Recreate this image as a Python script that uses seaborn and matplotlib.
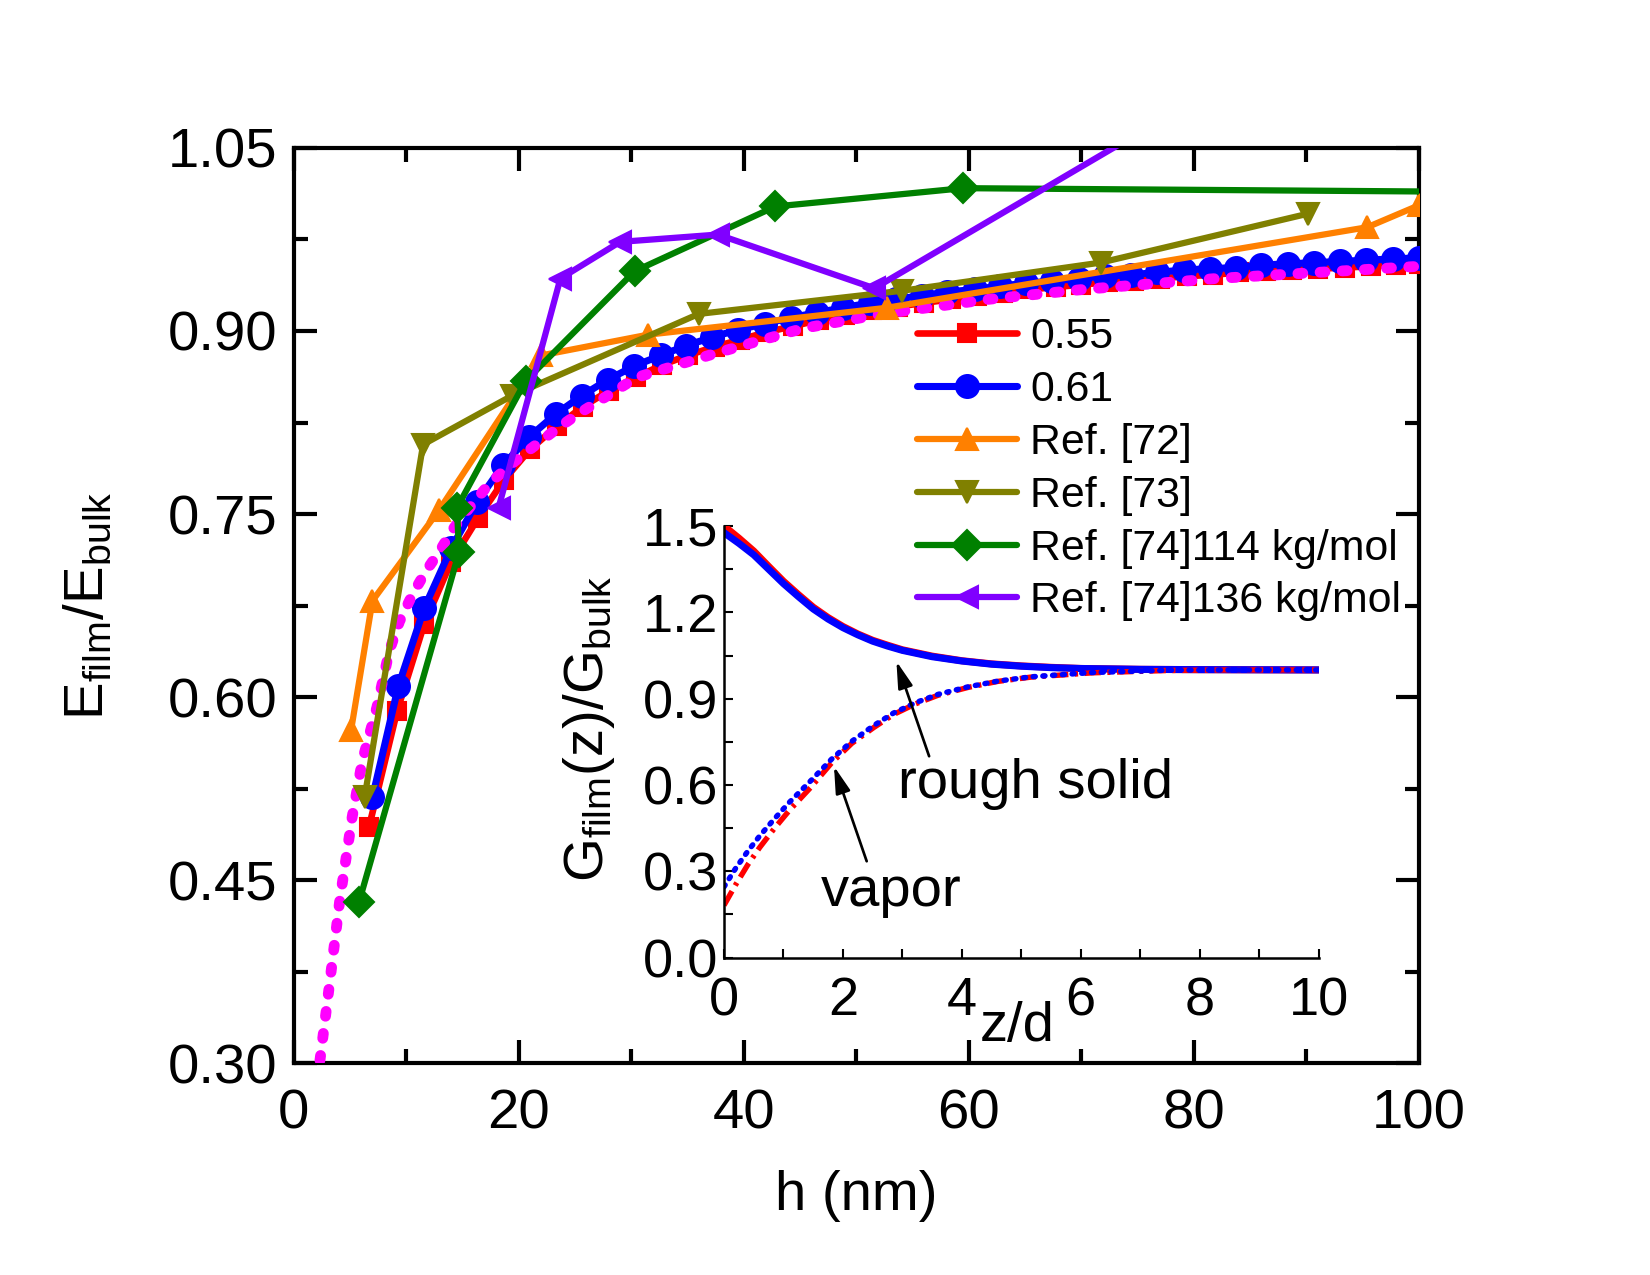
import matplotlib
matplotlib.use('Agg')
import matplotlib.pyplot as plt
import matplotlib.font_manager as fm
import seaborn as sns
from matplotlib.ticker import MultipleLocator, FormatStrFormatter

# ---- main panel: E_film/E_bulk vs h ----
h_055 = [6.7, 9.2, 11.6, 14.0, 16.4, 18.7, 21.0, 23.4, 25.7, 28.0, 30.4, 32.7, 35.0, 37.4,
         39.7, 42.0, 44.4, 46.7, 49.0, 51.4, 53.7, 56.0, 58.4, 60.7, 63.0, 65.4, 67.7, 70.0,
         72.4, 74.7, 77.0, 79.4, 81.7, 84.0, 86.4, 88.7, 91.0, 93.4, 95.7, 98.0, 100.0]
E_055 = [0.494, 0.589, 0.660, 0.711, 0.747, 0.778, 0.803, 0.822, 0.838, 0.851, 0.862, 0.872,
         0.880, 0.887, 0.893, 0.899, 0.904, 0.909, 0.913, 0.917, 0.920, 0.923, 0.926, 0.929,
         0.931, 0.934, 0.936, 0.938, 0.940, 0.941, 0.943, 0.945, 0.946, 0.948, 0.949, 0.950,
         0.951, 0.952, 0.953, 0.954, 0.955]

h_061 = [7.0, 9.3, 11.6, 14.0, 16.3, 18.6, 20.9, 23.3, 25.6, 27.9, 30.2, 32.6, 34.9, 37.2,
         39.5, 41.9, 44.2, 46.5, 48.8, 51.2, 53.5, 55.8, 58.1, 60.5, 62.8, 65.1, 67.4, 69.8,
         72.1, 74.4, 76.7, 79.1, 81.4, 83.7, 86.0, 88.4, 90.7, 93.0, 95.3, 97.7, 100.0]
E_061 = [0.518, 0.609, 0.673, 0.722, 0.760, 0.790, 0.813, 0.832, 0.847, 0.860, 0.871, 0.880,
         0.888, 0.895, 0.901, 0.906, 0.911, 0.915, 0.919, 0.923, 0.926, 0.929, 0.932, 0.934,
         0.937, 0.939, 0.941, 0.943, 0.945, 0.946, 0.948, 0.950, 0.951, 0.952, 0.954, 0.955,
         0.956, 0.957, 0.958, 0.959, 0.960]

h_model = [1.8, 2.3, 3.2, 4.1, 5.2, 6.1, 7.4, 8.5, 9.4, 10.6, 11.8, 13.0, 14.1, 15.6, 17.4,
           19.2, 21.0, 23.4, 25.1, 30.5, 37.6, 45.2, 52.3, 61.8, 70.1, 82.0, 100.0]
E_model = [0.285, 0.30, 0.366, 0.434, 0.502, 0.548, 0.592, 0.638, 0.662, 0.685, 0.704, 0.720,
           0.737, 0.755, 0.775, 0.790, 0.803, 0.820, 0.831, 0.862, 0.882, 0.902, 0.914, 0.926,
           0.934, 0.943, 0.953]

h_ref72 = [5.1, 7.0, 12.9, 22.0, 31.5, 52.7, 95.4, 100.0]
E_ref72 = [0.573, 0.679, 0.753, 0.880, 0.897, 0.919, 0.985, 1.003]

h_ref73 = [6.3, 11.5, 19.4, 36.0, 54.1, 71.7, 90.1]
E_ref73 = [0.518, 0.807, 0.847, 0.914, 0.933, 0.956, 0.996]

h_ref74a = [5.8, 14.7, 14.5, 20.6, 30.3, 42.8, 59.5, 120.0]
E_ref74a = [0.432, 0.719, 0.755, 0.859, 0.949, 1.002, 1.017, 1.013]

h_ref74b = [18.2, 23.7, 29.0, 37.7, 51.6, 95.0]
E_ref74b = [0.755, 0.943, 0.973, 0.979, 0.935, 1.170]

# ---- inset: G_film(z)/G_bulk vs z/d ----
z_solid = [0.0, 0.25, 0.5, 0.75, 1.0, 1.25, 1.5, 1.75, 2.0, 2.25, 2.5, 2.75, 3.0, 3.5, 4.0,
           4.5, 5.0, 5.5, 6.0, 7.0, 8.0, 10.0]
G_solid_red = [1.500, 1.458, 1.413, 1.360, 1.308, 1.262, 1.218, 1.182, 1.151, 1.125, 1.103,
               1.086, 1.070, 1.048, 1.032, 1.021, 1.014, 1.009, 1.005, 1.002, 1.001, 1.000]
G_solid_blue = [1.477, 1.440, 1.400, 1.350, 1.300, 1.255, 1.212, 1.177, 1.147, 1.122, 1.100,
                1.083, 1.068, 1.046, 1.031, 1.020, 1.013, 1.008, 1.005, 1.002, 1.001, 1.000]

z_vapor = [0.0, 0.2, 0.4, 0.6, 0.85, 1.1, 1.46, 1.81, 2.15, 2.52, 2.85, 3.22, 3.6, 4.1,
           4.6, 5.16, 6.2, 7.45, 8.5, 10.0]
G_vapor_red = [0.182, 0.255, 0.323, 0.383, 0.450, 0.512, 0.592, 0.677, 0.745, 0.800, 0.845,
               0.882, 0.912, 0.939, 0.960, 0.975, 0.990, 0.998, 1.000, 1.000]
G_vapor_blue = [0.246, 0.312, 0.370, 0.423, 0.483, 0.540, 0.615, 0.690, 0.752, 0.807, 0.850,
                0.886, 0.915, 0.941, 0.961, 0.976, 0.991, 0.999, 1.000, 1.000]

sns.set_theme(style='ticks')
names = {f.name for f in fm.fontManager.ttflist}
narrow = 'Liberation Sans Narrow' if 'Liberation Sans Narrow' in names else 'Liberation Sans'
plt.rcParams['font.family'] = ['Liberation Sans', 'DejaVu Sans']
plt.rcParams['mathtext.default'] = 'regular'
plt.rcParams['text.color'] = 'black'
plt.rcParams['axes.labelcolor'] = 'black'
plt.rcParams['xtick.color'] = 'black'
plt.rcParams['ytick.color'] = 'black'

fig = plt.figure(figsize=(11, 8.5), dpi=150)
ax = fig.add_axes([0.178, 0.166, 0.682, 0.718])

series = [
    (h_055, E_055, '0.55', '#FF0000', 's', 9, 3.2),
    (h_061, E_061, '0.61', '#0000FF', 'o', 11, 3.4),
    (h_ref72, E_ref72, 'Ref. [72]', '#FF8000', '^', 11, 3.0),
    (h_ref73, E_ref73, 'Ref. [73]', '#808000', 'v', 11, 3.0),
    (h_ref74a, E_ref74a, 'Ref. [74]114 kg/mol', '#008000', 'D', 10, 3.0),
    (h_ref74b, E_ref74b, 'Ref. [74]136 kg/mol', '#8000FF', '<', 11, 3.0),
]

for i, (hx, ey, lab, col, mk, ms, lw) in enumerate(series):
    sns.lineplot(x=hx, y=ey, ax=ax, color=col, marker=mk, markersize=ms, linewidth=lw,
                 markeredgecolor=col, markeredgewidth=1, label=lab, sort=False,
                 estimator=None, zorder=3 + i)
    if i == 1:
        # dotted model curve sits above the simulation points
        sns.lineplot(x=h_model, y=E_model, ax=ax, color='#FF00FF', linewidth=5.2,
                     linestyle=(0, (0.45, 1.6)), dash_capstyle='round', sort=False,
                     estimator=None, zorder=4.5)

ax.set_xlim(0, 100)
ax.set_ylim(0.30, 1.05)
ax.xaxis.set_major_locator(MultipleLocator(20))
ax.xaxis.set_minor_locator(MultipleLocator(10))
ax.yaxis.set_major_locator(MultipleLocator(0.15))
ax.yaxis.set_minor_locator(MultipleLocator(0.075))
ax.yaxis.set_major_formatter(FormatStrFormatter('%.2f'))
ax.tick_params(which='both', direction='in', top=True, right=True, width=2,
               labelsize=27, pad=8, color='black', labelcolor='black')
ax.tick_params(axis='x', which='both', pad=12)
ax.tick_params(which='major', length=11)
ax.tick_params(which='minor', length=6.5)
for s in ax.spines.values():
    s.set_linewidth(2)
    s.set_color('black')
ax.set_xlabel('h (nm)', fontsize=27, labelpad=14)
ax.set_ylabel('E$_{film}$/E$_{bulk}$', fontsize=27, labelpad=25)

handles, labels = ax.get_legend_handles_labels()
ax.legend(handles, labels, loc='upper left', bbox_to_anchor=(0.554, 0.815), frameon=False,
          fontsize=20.5, handlelength=2.35, handletextpad=0.3, labelspacing=0.3,
          borderpad=0, borderaxespad=0)

# ---- inset ----
ax_in = fig.add_axes([0.4388, 0.2489, 0.3603, 0.3385])
ax_in.set_facecolor('none')
sns.lineplot(x=z_solid, y=G_solid_red, ax=ax_in, color='#FF0000', linewidth=3.4,
             sort=False, estimator=None)
sns.lineplot(x=z_solid, y=G_solid_blue, ax=ax_in, color='#0000FF', linewidth=3.4,
             sort=False, estimator=None)
sns.lineplot(x=z_vapor, y=G_vapor_red, ax=ax_in, color='#FF0000', linewidth=2.6,
             linestyle=(0, (3, 1.2, 0.6, 1.2)), sort=False, estimator=None)
sns.lineplot(x=z_vapor, y=G_vapor_blue, ax=ax_in, color='#0000FF', linewidth=2.6,
             linestyle=(0, (0.4, 1.4)), dash_capstyle='round', sort=False, estimator=None)

ax_in.set_xlim(0, 10)
ax_in.set_ylim(0, 1.5)
ax_in.xaxis.set_major_locator(MultipleLocator(2))
ax_in.xaxis.set_minor_locator(MultipleLocator(1))
ax_in.yaxis.set_major_locator(MultipleLocator(0.3))
ax_in.yaxis.set_minor_locator(MultipleLocator(0.15))
ax_in.yaxis.set_major_formatter(FormatStrFormatter('%.1f'))
ax_in.spines['top'].set_visible(False)
ax_in.spines['right'].set_visible(False)
for s in ('left', 'bottom'):
    ax_in.spines[s].set_linewidth(1.2)
    ax_in.spines[s].set_color('black')
ax_in.tick_params(which='both', direction='in', width=1.0, length=4.5, labelsize=26,
                  pad=3, color='black', labelcolor='black')
ax_in.tick_params(axis='x', which='both', pad=9)
for t in ax_in.get_xticklabels() + ax_in.get_yticklabels():
    t.set_family([narrow, 'Liberation Sans'])
ax_in.set_xlabel('z/d', fontsize=27, family=[narrow, 'Liberation Sans'])
ax_in.xaxis.set_label_coords(0.493, -0.1)
ax_in.set_ylabel('G$_{film}$(z)/G$_{bulk}$', fontsize=27, family=[narrow, 'Liberation Sans'])
ax_in.yaxis.set_label_coords(-0.18, 0.53)

arrow = dict(arrowstyle='-|>,head_length=0.9,head_width=0.25', color='black', lw=1.3,
             shrinkA=0, shrinkB=0)
ax_in.annotate('', xy=(2.9, 1.03), xytext=(3.45, 0.70), arrowprops=arrow)
ax_in.annotate('', xy=(1.85, 0.665), xytext=(2.4, 0.335), arrowprops=arrow)
ax_in.text(2.92, 0.605, 'rough solid', fontsize=27, ha='left', va='center')
ax_in.text(1.63, 0.227, 'vapor', fontsize=27, ha='left', va='center')

fig.savefig('out.png', dpi=150)
